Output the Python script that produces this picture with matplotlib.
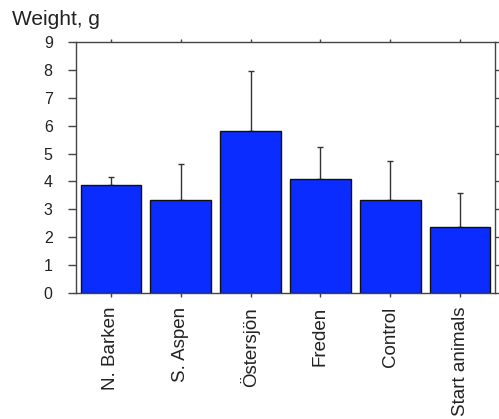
import matplotlib
matplotlib.use("Agg")
import matplotlib.pyplot as plt
import numpy as np

categories = ["N. Barken", "S. Aspen", "Östersjön", "Freden", "Control", "Start animals"]
means = [3.88, 3.33, 5.81, 4.07, 3.33, 2.35]
upper = [4.17, 4.62, 7.97, 5.24, 4.74, 3.59]
yticks = list(range(0, 10))

plt.rcParams['font.family'] = ['Liberation Sans', 'DejaVu Sans']
fig = plt.figure(figsize=(4.99, 4.19), dpi=100)
ax = fig.add_axes([76/499, 1-293/419, (495-76)/499, (293-42)/419])

x = np.arange(len(categories))
err = np.array(upper) - np.array(means)
ax.bar(x, means, width=0.87, color='#0a2cff', edgecolor='#111111', linewidth=1.0, zorder=2)
ax.errorbar(x, means, yerr=[np.zeros_like(err), err], fmt='none', ecolor='#333333',
            elinewidth=1.0, capsize=2.5, capthick=1.0, zorder=1)

ax.set_xlim(-0.5, 5.5)
ax.set_ylim(0, 9)
ax.set_yticks(yticks)
ax.set_yticklabels([str(t) for t in yticks], fontsize=11.5, color='#222222')
ax.set_xticks(x)
ax.set_xticklabels(categories, rotation=90, fontsize=13.5, color='#222222')
for s in ax.spines.values():
    s.set_color('#444444')
    s.set_linewidth(1.0)
ax.tick_params(axis='y', direction='out', length=5.8, width=1, color='#444444', pad=11, right=True)
ax.tick_params(axis='x', direction='out', length=3, width=1, color='#444444', pad=7, top=True)
ax.tick_params(axis='both', which='both', labeltop=False, labelright=False)
for t in ax.xaxis.get_major_ticks():
    t.tick2line.set_markersize(2)
for t in ax.yaxis.get_major_ticks():
    t.tick2line.set_markersize(3)

fig.text(12/499, 1-25/419, "Weight, g", fontsize=15, color='#222222', va='baseline', ha='left')

fig.savefig("out.png", dpi=100)
